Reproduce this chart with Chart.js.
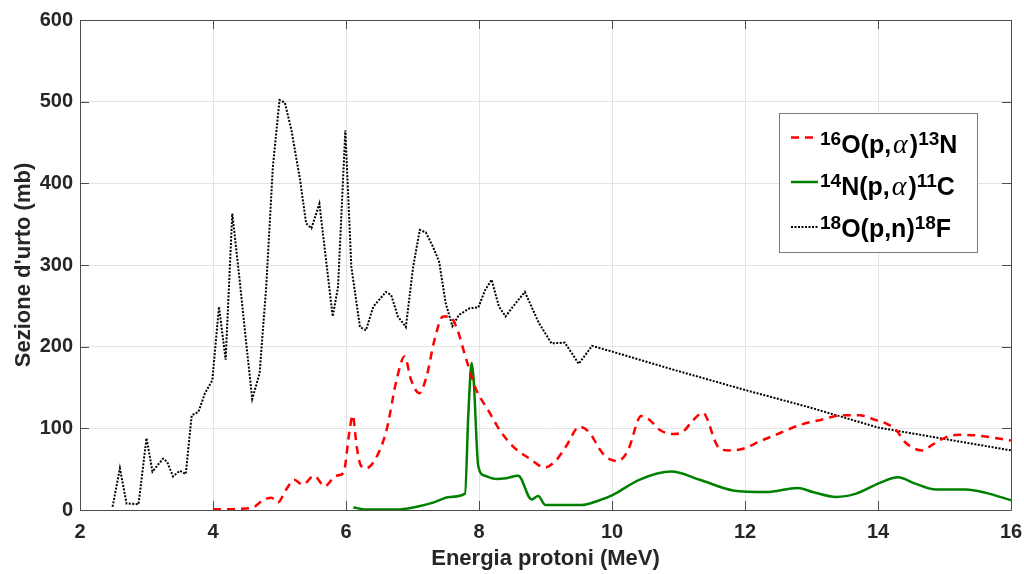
<!DOCTYPE html>
<html>
<head>
<meta charset="utf-8">
<script src="https://cdn.jsdelivr.net/npm/chart.js@4.4.0/dist/chart.umd.min.js"></script>
<style>
  html, body { margin: 0; padding: 0; background: #fff; }
</style>
</head>
<body>
<canvas id="chart" width="1024" height="574"></canvas>
<script>
// cross sections (energy in MeV, sigma in mb)
var o16Energy = [4.00, 4.20, 4.40, 4.60, 4.75, 4.88, 4.97, 5.10, 5.22, 5.35, 5.52, 5.68, 5.85, 5.96, 6.05, 6.10, 6.16, 6.22, 6.30, 6.46, 6.61, 6.76, 6.88, 6.98, 7.10, 7.21, 7.33, 7.46, 7.56, 7.66, 7.81, 7.96, 8.14, 8.31, 8.51, 8.76, 8.99, 9.16, 9.31, 9.51, 9.66, 9.81, 9.91, 10.09, 10.24, 10.44, 10.57, 10.72, 10.92, 11.07, 11.22, 11.37, 11.44, 11.54, 11.62, 11.77, 11.97, 12.22, 12.52, 12.82, 13.12, 13.47, 13.72, 13.97, 14.12, 14.27, 14.42, 14.67, 14.82, 15.02, 15.22, 15.52, 16.00];
var o16Sigma  = [1, 1, 1.5, 3, 12, 15, 9, 25, 37, 31, 42, 29, 42, 45, 95, 116, 78, 55, 51, 65, 98, 159, 188, 159, 143, 163, 208, 237, 237, 224, 184, 147, 122, 98, 78, 63, 52, 61, 78, 102, 95, 75, 65, 60, 73, 115, 110, 98, 93, 96, 110, 119, 110, 86, 75, 73, 75, 84, 94, 104, 110, 116, 116, 110, 106, 98, 82, 73, 80, 89, 92, 91, 85];

var n14Energy = [6.11, 6.33, 6.76, 7.01, 7.31, 7.56, 7.79, 7.84, 7.89, 7.92, 7.99, 8.09, 8.26, 8.41, 8.59, 8.79, 8.89, 9.00, 9.54, 9.81, 10.00, 10.41, 10.89, 11.32, 11.82, 12.32, 12.79, 13.02, 13.37, 13.67, 14.02, 14.30, 14.57, 14.87, 15.32, 15.62, 16.00];
var n14Sigma  = [3, 0.5, 0.5, 3, 9, 16, 20, 118, 180, 159, 53, 42, 38, 39, 42, 13, 17, 6, 6, 12, 18, 37, 47, 37, 24, 22, 27, 22, 16, 20, 33, 40, 32, 25, 25, 21, 12];

var o18Energy = [2.49, 2.60, 2.70, 2.88, 3.00, 3.09, 3.25, 3.31, 3.40, 3.50, 3.59, 3.68, 3.78, 3.88, 3.99, 4.09, 4.19, 4.29, 4.40, 4.50, 4.59, 4.70, 4.80, 4.90, 5.00, 5.08, 5.18, 5.31, 5.40, 5.48, 5.60, 5.70, 5.80, 5.88, 5.99, 6.08, 6.21, 6.30, 6.41, 6.60, 6.68, 6.78, 6.90, 7.01, 7.11, 7.20, 7.31, 7.40, 7.50, 7.60, 7.70, 7.86, 7.99, 8.09, 8.19, 8.30, 8.40, 8.51, 8.69, 8.90, 9.09, 9.29, 9.50, 9.70, 10, 11, 12, 13, 14, 15, 16];
var o18Sigma  = [4, 51, 8, 7, 88, 47, 63, 59, 41, 48, 44, 116, 120, 143, 159, 249, 184, 363, 282, 204, 136, 167, 273, 420, 502, 499, 465, 404, 351, 345, 375, 306, 237, 273, 465, 298, 224, 220, 249, 267, 263, 237, 224, 298, 343, 340, 322, 304, 253, 225, 239, 247, 248, 269, 282, 249, 237, 249, 267, 229, 204, 205, 179, 201, 194, 170, 147, 125, 101, 87, 73];

var xTicksStep = 2;
var yTicksStep = 100;

// legend labels: pieces of text, s = superscript, g = greek
var legendLabels = [
  [{t: '16', s: true}, {t: 'O(p,'}, {t: 'α', g: true}, {t: ')'}, {t: '13', s: true}, {t: 'N'}],
  [{t: '14', s: true}, {t: 'N(p,'}, {t: 'α', g: true}, {t: ')'}, {t: '11', s: true}, {t: 'C'}],
  [{t: '18', s: true}, {t: 'O(p,n)'}, {t: '18', s: true}, {t: 'F'}]
];

function toPoints(xs, ys) {
  var pts = [];
  for (var i = 0; i < xs.length; i++) pts.push({x: xs[i], y: ys[i]});
  return pts;
}

var textColor = '#262626';
var fontFamily = '"Liberation Sans", Arial, Helvetica, sans-serif';

// box round the plot with inward ticks
var framePlugin = {
  id: 'frame',
  afterDatasetsDraw: function(chart) {
    var c = chart.ctx, a = chart.chartArea;
    var xs = chart.scales.x, ys = chart.scales.y;
    var len = 9;
    c.save();
    c.strokeStyle = '#4d4d4d';
    c.lineWidth = 1;
    c.beginPath();
    c.rect(a.left + 0.5, a.top + 0.5, a.right - a.left, a.bottom - a.top);
    xs.ticks.forEach(function(t) {
      var px = Math.round(xs.getPixelForValue(t.value)) + 0.5;
      c.moveTo(px, a.bottom); c.lineTo(px, a.bottom - len);
      c.moveTo(px, a.top); c.lineTo(px, a.top + len);
    });
    ys.ticks.forEach(function(t) {
      var py = Math.round(ys.getPixelForValue(t.value)) + 0.5;
      c.moveTo(a.left, py); c.lineTo(a.left + len, py);
      c.moveTo(a.right, py); c.lineTo(a.right - len, py);
    });
    c.stroke();
    c.restore();
  }
};

// legend with superscripts
var legendPlugin = {
  id: 'richLegend',
  afterDraw: function(chart) {
    var c = chart.ctx;
    var box = {x: 779.5, y: 113.5, w: 198, h: 139};
    c.save();
    c.fillStyle = '#fff';
    c.strokeStyle = '#7a7a7a';
    c.lineWidth = 1;
    c.fillRect(box.x, box.y, box.w, box.h);
    c.strokeRect(box.x, box.y, box.w, box.h);

    var lineY = [137.5, 182, 227];
    var baseY = [153, 195, 237];
    chart.data.datasets.forEach(function(ds, i) {
      c.beginPath();
      c.strokeStyle = ds.borderColor;
      c.lineWidth = ds.borderWidth;
      c.setLineDash(ds.borderDash || []);
      c.moveTo(791, lineY[i]);
      c.lineTo(818, lineY[i]);
      c.stroke();
      c.setLineDash([]);

      var x = 820;
      c.fillStyle = '#000';
      c.textBaseline = 'alphabetic';
      c.textAlign = 'left';
      legendLabels[i].forEach(function(p) {
        var y = baseY[i];
        if (p.s) { c.font = 'bold 19px ' + fontFamily; y -= 8; }
        else if (p.g) { c.font = 'italic 28px "Liberation Serif", "DejaVu Serif", serif'; x += 2; }
        else { c.font = 'bold 25px ' + fontFamily; }
        c.fillText(p.t, x, y);
        x += c.measureText(p.t).width + (p.g ? 2 : 0);
      });
    });
    c.restore();
  }
};

var ctx = document.getElementById('chart');
var myChart = new Chart(ctx, {
  type: 'line',
  data: {
    datasets: [{
      label: '16O(p,α)13N',
      data: toPoints(o16Energy, o16Sigma),
      borderColor: '#ff0000',
      borderWidth: 2.5,
      borderDash: [8, 6],
      pointRadius: 0,
      cubicInterpolationMode: 'monotone',
      fill: false
    }, {
      label: '14N(p,α)11C',
      data: toPoints(n14Energy, n14Sigma),
      borderColor: '#008000',
      borderWidth: 2.5,
      pointRadius: 0,
      cubicInterpolationMode: 'monotone',
      fill: false
    }, {
      label: '18O(p,n)18F',
      data: toPoints(o18Energy, o18Sigma),
      borderColor: '#000000',
      borderWidth: 2,
      borderDash: [2, 1.5],
      pointRadius: 0,
      tension: 0,
      fill: false
    }]
  },
  options: {
    responsive: false,
    animation: false,
    layout: { padding: { top: 20, right: 13, left: 0, bottom: 0 } },
    plugins: {
      legend: { display: false },
      tooltip: { enabled: false }
    },
    scales: {
      x: {
        type: 'linear',
        min: 2,
        max: 16,
        ticks: { stepSize: xTicksStep, color: textColor, padding: 10, font: { family: fontFamily, size: 20, weight: 'bold' } },
        grid: { color: '#e3e3e3', drawTicks: false },
        border: { display: false },
        title: { display: true, text: 'Energia protoni (MeV)', color: textColor, padding: { top: 0, bottom: 2 }, font: { family: fontFamily, size: 22, weight: 'bold' } },
        afterFit: function(s) { s.height = 64; s.paddingLeft = 0; s.paddingRight = 0; }
      },
      y: {
        min: 0,
        max: 600,
        ticks: { stepSize: yTicksStep, color: textColor, padding: 7, font: { family: fontFamily, size: 20, weight: 'bold' } },
        grid: { color: '#e3e3e3', drawTicks: false },
        border: { display: false },
        title: { display: true, text: "Sezione d'urto (mb)", color: textColor, padding: { top: 11, bottom: 0 }, font: { family: fontFamily, size: 22, weight: 'bold' } },
        afterFit: function(s) { s.width = 80; s.paddingTop = 0; s.paddingBottom = 0; }
      }
    }
  },
  plugins: [framePlugin, legendPlugin]
});
</script>
</body>
</html>
